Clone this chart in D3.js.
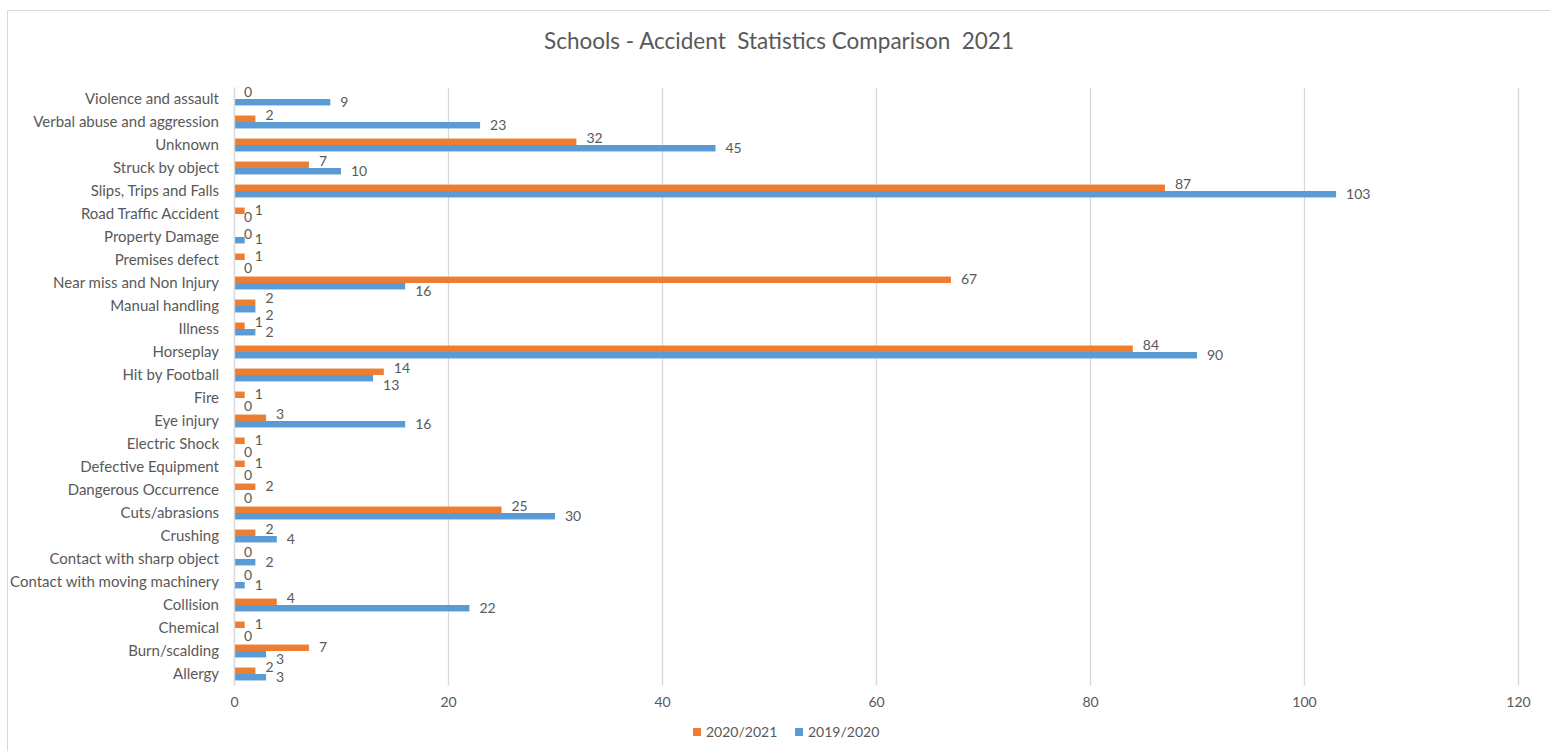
<!DOCTYPE html>
<html>
<head>
<meta charset="utf-8">
<script src="https://cdn.jsdelivr.net/npm/d3@7"></script>
<style>
  html, body { margin: 0; padding: 0; background: #fff; }
  svg { display: block; }
  text { font-family: Lato, "Open Sans", sans-serif; fill: #595959; }
</style>
</head>
<body>
<svg id="chart" width="1550" height="751"></svg>
<script>
const title = "Schools - Accident  Statistics Comparison  2021";
const categories = [
  "Violence and assault", "Verbal abuse and aggression", "Unknown", "Struck by object",
  "Slips, Trips and Falls", "Road Traffic Accident", "Property Damage", "Premises defect",
  "Near miss and Non Injury", "Manual handling", "Illness", "Horseplay", "Hit by Football",
  "Fire", "Eye injury", "Electric Shock", "Defective Equipment", "Dangerous Occurrence",
  "Cuts/abrasions", "Crushing", "Contact with sharp object", "Contact with moving machinery",
  "Collision", "Chemical", "Burn/scalding", "Allergy"
];
const series2021 = [0, 2, 32, 7, 87, 1, 0, 1, 67, 2, 1, 84, 14, 1, 3, 1, 1, 2, 25, 2, 0, 0, 4, 1, 7, 2];
const series2020 = [9, 23, 45, 10, 103, 0, 1, 0, 16, 2, 2, 90, 13, 0, 16, 0, 0, 0, 30, 4, 2, 1, 22, 0, 3, 3];
const seriesNames = ["2020/2021", "2019/2020"];
const seriesColors = ["#ED7D31", "#5B9BD5"];
const xTicks = [0, 20, 40, 60, 80, 100, 120];

const svg = d3.select("#chart");
const W = 1550, H = 751;
const plot = { left: 234, right: 1518, top: 87.5, bottom: 685.5 };

// frame
svg.append("rect")
  .attr("x", 7.5).attr("y", 10.5)
  .attr("width", W + 20).attr("height", H + 20)
  .attr("fill", "#fff").attr("stroke", "#d9d9d9").attr("stroke-width", 1);

// title
svg.append("text")
  .attr("x", 779).attr("y", 49)
  .attr("text-anchor", "middle")
  .style("font-size", "22.5px")
  .style("white-space", "pre")
  .attr("xml:space", "preserve")
  .text(title);

const x = d3.scaleLinear().domain([0, 120]).range([plot.left, plot.right]);
const y = d3.scaleBand().domain(categories).range([plot.top, plot.bottom]).paddingInner(0.44).paddingOuter(0.22);
const inner = d3.scaleBand().domain([0, 1]).range([0, y.bandwidth()]);

// gridlines
svg.append("g").selectAll("line")
  .data(xTicks)
  .join("line")
  .attr("x1", d => Math.round(x(d)) + 0.5).attr("x2", d => Math.round(x(d)) + 0.5)
  .attr("y1", plot.top).attr("y2", plot.bottom)
  .attr("stroke", "#d9d9d9").attr("stroke-width", 1.3);

// x axis labels
const xAxis = d3.axisBottom(x).tickValues(xTicks).tickSize(0).tickPadding(12);
const gx = svg.append("g").attr("transform", `translate(0,${plot.bottom})`).call(xAxis);
gx.select(".domain").remove();
gx.selectAll("text").style("font-size", "14px").style("font-family", "Lato, sans-serif").attr("fill", "#595959");

// y axis labels
const yAxis = d3.axisLeft(y).tickSize(0).tickPadding(15);
const gy = svg.append("g").attr("transform", `translate(${plot.left},0)`).call(yAxis);
gy.select(".domain").remove();
gy.selectAll("text").style("font-size", "15px").style("font-family", "Lato, sans-serif").attr("fill", "#595959");

const rows = categories.map((c, i) => ({ c, v: [series2021[i], series2020[i]] }));

// bars
const barG = svg.append("g");
[0, 1].forEach(s => {
  barG.selectAll(".bar" + s)
    .data(rows)
    .join("rect")
    .attr("class", "bar" + s)
    .attr("x", x(0))
    .attr("y", d => y(d.c) + inner(s))
    .attr("width", d => x(d.v[s]) - x(0))
    .attr("height", inner.bandwidth())
    .attr("fill", seriesColors[s]);
});

// data labels: preferred position, then simple vertical collision resolution
const labels = [];
rows.forEach(d => {
  [0, 1].forEach(s => {
    const cy = y(d.c) + inner(s) + inner.bandwidth() / 2;
    const [a, b] = d.v;
    let dy;
    if (s === 0) dy = b > a ? -4 : (a === b ? -2 : -1);
    else dy = a > b ? 5 : (a === b ? 3 : 0);
    const txt = String(d.v[s]);
    const lx = x(d.v[s]) + 10;
    labels.push({ txt, x: lx, w: txt.length * 8, y: cy + dy });
  });
});
labels.sort((p, q) => p.y - q.y);
const minGap = 17;
for (let iter = 0; iter < 6; iter++) {
  for (let i = 0; i < labels.length; i++) {
    for (let j = i + 1; j < labels.length; j++) {
      const p = labels[i], q = labels[j];
      const xo = p.x < q.x + q.w && q.x < p.x + p.w;
      const gap = q.y - p.y;
      if (xo && gap < minGap && gap >= 0) {
        const push = (minGap - gap) / 2;
        p.y -= push; q.y += push;
      }
    }
  }
}
svg.append("g").selectAll("text")
  .data(labels)
  .join("text")
  .attr("x", d => d.x)
  .attr("y", d => d.y)
  .attr("dy", "0.35em")
  .style("font-size", "14px")
  .text(d => d.txt);

// axis line
svg.append("line")
  .attr("x1", Math.round(x(0)) + 0.5).attr("x2", Math.round(x(0)) + 0.5)
  .attr("y1", plot.top).attr("y2", plot.bottom)
  .attr("stroke", "#d9d9d9").attr("stroke-width", 1.3);

// legend
const legend = svg.append("g");
const legendX = [693, 795];
seriesNames.forEach((n, i) => {
  legend.append("rect").attr("x", legendX[i]).attr("y", 728).attr("width", 8).attr("height", 8).attr("fill", seriesColors[i]);
  legend.append("text").attr("x", legendX[i] + 13).attr("y", 732).attr("dy", "0.35em").style("font-size", "14px").text(n);
});
</script>
</body>
</html>
